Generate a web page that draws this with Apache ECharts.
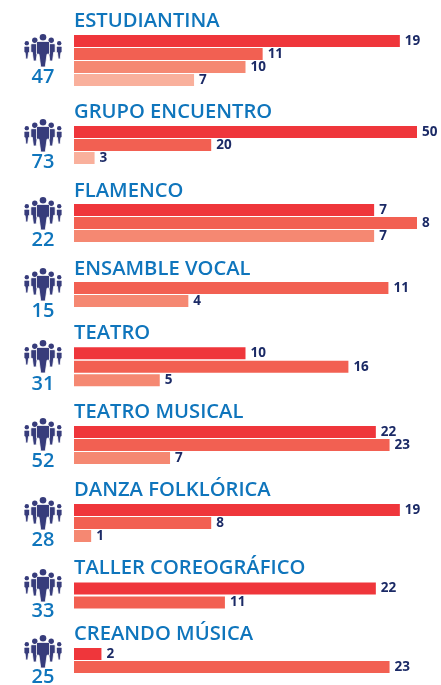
<!DOCTYPE html>
<html>
<head>
<meta charset="utf-8">
<style>
  html, body { margin: 0; padding: 0; background: #fff; }
  #container { width: 441px; height: 685px; }
</style>
<script src="https://cdn.jsdelivr.net/npm/echarts@6/dist/echarts.min.js"></script>
</head>
<body>
<div id="container"></div>
<script>
const groupNames = ['ESTUDIANTINA', 'GRUPO ENCUENTRO', 'FLAMENCO', 'ENSAMBLE VOCAL', 'TEATRO',
    'TEATRO MUSICAL', 'DANZA FOLKLÓRICA', 'TALLER COREOGRÁFICO', 'CREANDO MÚSICA'];
const totals = [47, 73, 22, 15, 31, 52, 28, 33, 25];
// one list per shade of red, null = no bar in that group
const shadeA = [19, 50, 7, null, 10, 22, 19, 22, 2];
const shadeB = [11, 20, 8, 11, 16, 23, 8, 11, 23];
const shadeC = [10, null, 7, 4, 5, 7, 1, null, null];
const shadeD = [7, 3, null, null, null, null, null, null, null];
// every group has its own scale in the original
const groupMax = [20, 50, 8, 12, 20, 25, 20, 25, 25];

const shades = ['#ef363b', '#f26052', '#f58872', '#f9b09c'];
const barTop = [35, 126, 204, 282, 347, 426, 504, 582, 648];
const barPitch = [13, 13, 13, 13, 13.5, 13, 13, 14, 13];
const titleY = [21, 112, 191, 269, 333, 412, 490, 568, 634];
const iconY = [34, 119, 197, 268, 340, 418, 497, 569, 635];
const totalY = [77, 162, 240, 311, 384, 461, 540, 611, 677];

const FONT = '"Open Sans", sans-serif';
const BLUE = '#0f75bc';
const NAVY = '#1b2a66';
const ICON = '#373c7b';

const grid = [], xAxis = [], yAxis = [], series = [], graphic = [];

// one person of the crowd icon: head radius r, half width w, from top to bottom
const person = (cx, top, bottom, w, r) => {
    const neck = top + 2 * r + 0.8;
    const h = bottom - neck;
    return [
        { type: 'circle', shape: { cx: cx, cy: top + r, r: r }, style: { fill: ICON } },
        { type: 'polygon', shape: { points: [
            [cx - w + 1, neck], [cx + w - 1, neck], [cx + w, neck + 1], [cx + w, neck + h * 0.5],
            [cx + w * 0.62, neck + h * 0.5], [cx + w * 0.35, bottom], [cx - w * 0.35, bottom],
            [cx - w * 0.62, neck + h * 0.5], [cx - w, neck + h * 0.5], [cx - w, neck + 1]
        ] }, style: { fill: ICON, stroke: '#fff', lineWidth: 0.8 } }
    ];
};

groupNames.forEach((name, i) => {
    const rows = [shadeA[i], shadeB[i], shadeC[i], shadeD[i]]
        .map((v, k) => ({ value: v, itemStyle: { color: shades[k] } }))
        .filter(d => d.value !== null);
    grid.push({ left: 74, width: 343, top: barTop[i] - 0.5, height: rows.length * barPitch[i] });
    xAxis.push({ gridIndex: i, type: 'value', min: 0, max: groupMax[i], show: false });
    yAxis.push({ gridIndex: i, type: 'category', inverse: true, data: rows.map((d, k) => k), show: false });
    series.push({
        type: 'bar', xAxisIndex: i, yAxisIndex: i, data: rows, barWidth: 12, silent: true,
        label: {
            show: true, position: 'right', distance: 5, color: NAVY,
            fontFamily: FONT, fontSize: 13.5, fontWeight: 700
        }
    });
    graphic.push({ type: 'text', x: 74, y: titleY[i], style: {
        text: name, fill: BLUE, font: '600 20.2px ' + FONT, textVerticalAlign: 'middle' } });
    graphic.push({ type: 'text', x: 43, y: totalY[i], style: {
        text: String(totals[i]), fill: BLUE, font: '600 20px ' + FONT,
        textAlign: 'center', textVerticalAlign: 'middle' } });
    const t = iconY[i];
    graphic.push({ type: 'group', silent: true, children: [
        ...person(26.8, t + 7, t + 25, 2.8, 2.2), ...person(59.2, t + 7, t + 25, 2.8, 2.2),
        ...person(34.8, t + 3.5, t + 27, 4, 2.7), ...person(51.2, t + 3.5, t + 27, 4, 2.7),
        ...person(43, t, t + 33, 6.5, 3.3)
    ] });
});

const myChart = echarts.init(document.getElementById('container'));
myChart.setOption({
    animation: false,
    backgroundColor: '#fff',
    grid, xAxis, yAxis, series, graphic
});
</script>
</body>
</html>
